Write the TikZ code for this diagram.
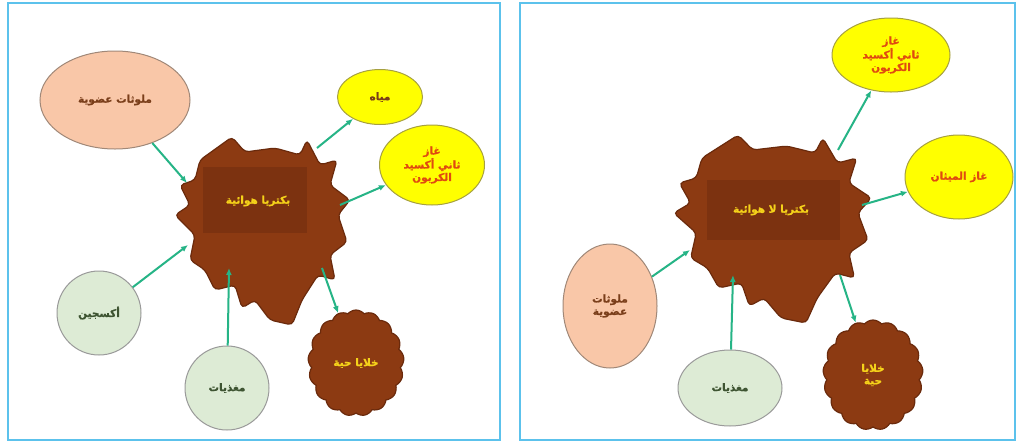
\documentclass[tikz,border=0pt]{standalone}
\usepackage{fontspec}
\newfontfamily\arabicfont[Script=Arabic,BoldFeatures={FakeBold=1.2}]{DejaVu Sans}
\TeXXeTstate=1
\usetikzlibrary{shapes.geometric,shapes.symbols,arrows.meta}

\definecolor{frameblue}{HTML}{5CC2EC}
\definecolor{peach}{HTML}{F9C7A8}
\definecolor{peachline}{HTML}{A08878}
\definecolor{lemon}{HTML}{FFFF00}
\definecolor{lemonline}{HTML}{A6A040}
\definecolor{mint}{HTML}{DDEBD5}
\definecolor{mintline}{HTML}{9A9A9A}
\definecolor{rust}{HTML}{8C3A12}
\definecolor{rustdark}{HTML}{6A2A0C}
\definecolor{rustbox}{HTML}{7C3210}
\definecolor{gold}{HTML}{F5D21A}
\definecolor{flow}{HTML}{26B486}
\definecolor{browntxt}{HTML}{7A3E1A}
\definecolor{redtxt}{HTML}{E04A10}
\definecolor{greentxt}{HTML}{3E5432}

\newcommand\artxt[1]{\beginR #1\endR}

% irregular outline of a bacteria colony, around its own centre
\newcommand\splatoutline{(-62,-70) -- (-30,-93) -- (-17,-78) -- (13,-82) -- (38,-75)
  -- (45,-90) -- (58,-65) -- (75,-70) -- (68,-45) -- (88,-30) -- (76,-15) -- (85,12)
  -- (68,25) -- (73,50) -- (56,45) -- (40,70) -- (30,95) -- (8,90) -- (-7,70)
  -- (-20,78) -- (-27,55) -- (-47,60) -- (-57,40) -- (-72,30) -- (-67,5) -- (-87,-15)
  -- (-72,-25) -- (-82,-45) -- (-67,-50) -- cycle}

\tikzset{
  font=\arabicfont\bfseries\fontsize{10.5}{12.5}\selectfont,
  panel/.style={draw=frameblue, line width=2pt},
  oval/.style={ellipse, inner sep=0pt, align=center, line width=1pt},
  pollutant/.style={oval, fill=peach, draw=peachline, text=browntxt},
  product/.style={oval, fill=lemon, draw=lemonline, text=redtxt},
  feed/.style={oval, fill=mint, draw=mintline, text=greentxt},
  colony/.style={fill=rust, draw=rustdark, line width=1.2pt, rounded corners=4pt},
  colonybox/.style={fill=rustbox},
  cellblob/.style={cloud, cloud puffs=17, cloud puff arc=100, fill=rust, draw=rustdark,
    line width=1.2pt, inner sep=0pt, align=center, text=gold},
  colonytext/.style={text=gold, align=center},
  arr/.style={draw=flow, line width=2pt, -{Latex[length=7pt,width=6pt]}},
}

\begin{document}
\begin{tikzpicture}[x=1pt, y=-1pt]
\useasboundingbox (0,0) rectangle (1020,445);
\fill[white] (0,0) rectangle (1020,445);

% ---------- aerobic panel ----------
\draw[panel] (8,3) rectangle (500,440);

\begin{scope}[shift={(262,230)}]
  \path[colony] \splatoutline;
\end{scope}
\fill[colonybox] (203,167) rectangle (307,233);
\node[colonytext] (aerobe) at (258,201) {\artxt{بكتريا هوائية}};

\node[pollutant, minimum width=150pt, minimum height=98pt] (orgL) at (115,100) {\artxt{ملوثات عضوية}};
\node[product, minimum width=85pt, minimum height=55pt, text=browntxt] (water) at (380,97) {\artxt{مياه}};
\node[product, minimum width=105pt, minimum height=80pt] (co2L) at (432,165)
  {\artxt{غاز}\\\artxt{ثاني أكسيد}\\\artxt{الكربون}};
\node[feed, circle, minimum size=84pt] (oxy) at (99,313) {\artxt{أكسجين}};
\node[feed, circle, minimum size=84pt] (nutL) at (227,388) {\artxt{مغذيات}};
\node[cellblob, minimum width=96pt, minimum height=106pt] (cellsL) at (356,363) {\artxt{خلايا حية}};

\coordinate (aInOrg) at (187,183);
\coordinate (aInOxy) at (188,245);
\coordinate (aInNut) at (229,268);
\coordinate (aOutWater) at (317,148);
\coordinate (aOutCO2) at (340,205);
\coordinate (aOutCells) at (322,268);

\draw[arr] (orgL) -- (aInOrg);
\draw[arr] (oxy) -- (aInOxy);
\draw[arr] (nutL) -- (aInNut);
\draw[arr] (aOutWater) -- (water);
\draw[arr] (aOutCO2) -- (co2L);
\draw[arr] (aOutCells) -- (cellsL);

% ---------- anaerobic panel ----------
\draw[panel] (520,3) rectangle (1015,440);

\begin{scope}[shift={(772,228)}, xscale=1.13]
  \path[colony] \splatoutline;
\end{scope}
\fill[colonybox] (707,180) rectangle (840,240);
\node[colonytext] (anaerobe) at (771,210) {\artxt{بكتريا لا هوائية}};

\node[product, minimum width=118pt, minimum height=74pt] (co2R) at (891,55)
  {\artxt{غاز}\\\artxt{ثاني أكسيد}\\\artxt{الكربون}};
\node[product, minimum width=108pt, minimum height=84pt] (methane) at (959,177) {\artxt{غاز الميثان}};
\node[pollutant, minimum width=94pt, minimum height=124pt] (orgR) at (610,306)
  {\artxt{ملوثات}\\\artxt{عضوية}};
\node[feed, minimum width=104pt, minimum height=76pt] (nutR) at (730,388) {\artxt{مغذيات}};
\node[cellblob, minimum width=100pt, minimum height=110pt] (cellsR) at (873,375)
  {\artxt{خلايا}\\\artxt{حية}};

\coordinate (bInOrg) at (690,250);
\coordinate (bInNut) at (733,275);
\coordinate (bOutCO2) at (838,150);
\coordinate (bOutCH4) at (862,205);
\coordinate (bOutCells) at (840,275);

\draw[arr] (orgR) -- (bInOrg);
\draw[arr] (nutR) -- (bInNut);
\draw[arr] (bOutCO2) -- (co2R);
\draw[arr] (bOutCH4) -- (methane);
\draw[arr] (bOutCells) -- (cellsR);
\end{tikzpicture}
\end{document}
